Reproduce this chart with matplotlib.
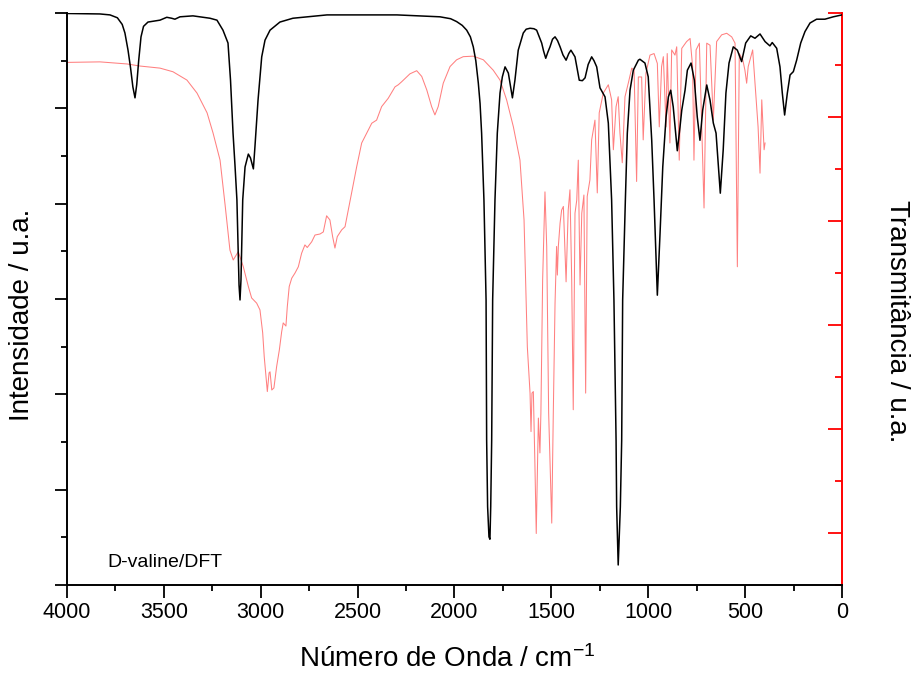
import matplotlib
matplotlib.use("Agg")
import matplotlib.pyplot as plt
from matplotlib.ticker import MultipleLocator, NullFormatter

plt.rcParams["font.family"] = ["Liberation Sans", "DejaVu Sans"]
plt.rcParams["mathtext.fontset"] = "custom"
plt.rcParams["mathtext.rm"] = "Liberation Sans"
plt.rcParams["mathtext.it"] = "Liberation Sans:italic"

# calculated (DFT) spectrum, black curve, left axis
dft_wn = [4000, 3830, 3778, 3740, 3715, 3701, 3685, 3672, 3660, 3649, 3640, 3630,
          3618, 3605, 3582, 3537, 3520, 3485, 3460, 3443, 3417, 3350, 3262, 3226,
          3195, 3169, 3156, 3143, 3133, 3123, 3112, 3107, 3102, 3093, 3081, 3064,
          3053, 3038, 3030, 3014, 2995, 2978, 2952, 2901, 2834, 2658, 2297, 2075,
          2020, 1989, 1960, 1937, 1918, 1903, 1890, 1877, 1868, 1860, 1848, 1837,
          1834, 1829, 1822, 1817, 1813, 1808, 1803, 1791, 1779, 1765, 1753, 1739,
          1722, 1710, 1701, 1688, 1671, 1645, 1630, 1610, 1590, 1576, 1550, 1540,
          1529, 1518, 1507, 1494, 1481, 1468, 1455, 1440, 1424, 1410, 1399, 1378,
          1356, 1340, 1326, 1310, 1292, 1280, 1266, 1249, 1223, 1206, 1189, 1177,
          1166, 1163, 1155, 1144, 1137, 1132, 1118, 1108, 1094, 1077, 1051, 1043,
          1017, 1000, 982, 970, 953, 939, 925, 908, 896, 884, 871, 850,
          836, 827, 810, 798, 779, 762, 747, 733, 719, 698, 681, 664,
          650, 628, 613, 599, 583, 561, 540, 518, 497, 471, 449, 423,
          397, 372, 360, 337, 320, 308, 296, 282, 268, 251, 234, 213,
          191, 165, 131, 88, 45, 0]
dft_int = [1.199, 1.198, 1.196, 1.190, 1.176, 1.158, 1.122, 1.085, 1.045, 1.022, 1.050, 1.100,
           1.150, 1.172, 1.181, 1.184, 1.185, 1.191, 1.189, 1.187, 1.192, 1.194, 1.189, 1.185,
           1.164, 1.137, 1.059, 0.948, 0.881, 0.808, 0.629, 0.598, 0.640, 0.808, 0.877, 0.904,
           0.896, 0.873, 0.919, 1.017, 1.108, 1.143, 1.164, 1.181, 1.189, 1.196, 1.196, 1.192,
           1.188, 1.182, 1.174, 1.164, 1.150, 1.129, 1.100, 1.053, 1.010, 0.948, 0.808, 0.598,
           0.304, 0.164, 0.101, 0.096, 0.164, 0.304, 0.598, 0.808, 0.948, 1.032, 1.066, 1.087,
           1.074, 1.045, 1.022, 1.059, 1.122, 1.158, 1.166, 1.168, 1.167, 1.164, 1.137, 1.120,
           1.105, 1.118, 1.129, 1.145, 1.150, 1.142, 1.129, 1.112, 1.101, 1.115, 1.122, 1.108,
           1.059, 1.058, 1.064, 1.092, 1.108, 1.100, 1.087, 1.043, 1.024, 0.969, 0.808, 0.598,
           0.304, 0.164, 0.042, 0.164, 0.304, 0.598, 0.808, 0.948, 1.038, 1.080, 1.101, 1.103,
           1.095, 1.066, 0.933, 0.808, 0.608, 0.738, 0.877, 0.982, 1.024, 1.038, 1.003, 0.911,
           0.961, 0.996, 1.038, 1.080, 1.095, 1.059, 0.982, 0.933, 0.996, 1.049, 1.017, 0.969,
           0.948, 0.822, 0.913, 1.032, 1.095, 1.129, 1.122, 1.098, 1.137, 1.152, 1.147, 1.156,
           1.140, 1.131, 1.138, 1.126, 1.087, 1.032, 0.986, 1.032, 1.070, 1.077, 1.101, 1.137,
           1.161, 1.179, 1.187, 1.187, 1.192, 1.196]

exp_wn = [4000, 3830, 3690, 3623, 3520, 3453, 3381, 3329, 3277, 3246, 3210, 3184,
          3159, 3142, 3116, 3090, 3064, 3047, 3021, 3004, 2990, 2982, 2973, 2966,
          2957, 2952, 2943, 2932, 2918, 2904, 2892, 2884, 2870, 2863, 2853, 2840,
          2823, 2806, 2789, 2772, 2760, 2737, 2720, 2694, 2677, 2660, 2643, 2629,
          2617, 2605, 2582, 2565, 2548, 2531, 2505, 2479, 2453, 2427, 2402, 2376,
          2342, 2307, 2290, 2272, 2230, 2195, 2169, 2143, 2118, 2101, 2084, 2058,
          2023, 1989, 1955, 1903, 1851, 1800, 1765, 1731, 1696, 1662, 1641, 1624,
          1610, 1605, 1600, 1593, 1585, 1578, 1567, 1559, 1554, 1545, 1533, 1524,
          1514, 1498, 1490, 1481, 1473, 1469, 1464, 1455, 1447, 1438, 1424, 1413,
          1404, 1395, 1387, 1378, 1369, 1361, 1352, 1343, 1332, 1323, 1315, 1301,
          1292, 1275, 1263, 1253, 1232, 1206, 1189, 1180, 1166, 1155, 1146, 1134,
          1120, 1103, 1085, 1073, 1060, 1051, 1034, 1026, 1012, 991, 970, 953,
          943, 931, 922, 908, 902, 888, 879, 862, 853, 840, 827, 802,
          784, 771, 764, 753, 736, 712, 698, 681, 664, 647, 621, 595,
          569, 552, 540, 530, 512, 501, 492, 484, 461, 433, 423, 414,
          402, 397]
exp_tr = [0.905, 0.906, 0.902, 0.898, 0.894, 0.887, 0.871, 0.846, 0.808, 0.769, 0.717, 0.631,
          0.544, 0.525, 0.541, 0.512, 0.474, 0.452, 0.442, 0.429, 0.385, 0.339, 0.301, 0.272,
          0.308, 0.310, 0.275, 0.279, 0.320, 0.352, 0.387, 0.404, 0.398, 0.435, 0.474, 0.490,
          0.500, 0.512, 0.538, 0.554, 0.549, 0.560, 0.573, 0.575, 0.579, 0.610, 0.602, 0.570,
          0.548, 0.570, 0.583, 0.589, 0.621, 0.654, 0.704, 0.750, 0.769, 0.788, 0.794, 0.820,
          0.836, 0.858, 0.862, 0.868, 0.883, 0.889, 0.878, 0.852, 0.820, 0.804, 0.820, 0.865,
          0.897, 0.910, 0.916, 0.917, 0.910, 0.890, 0.871, 0.833, 0.781, 0.717, 0.602, 0.358,
          0.269, 0.195, 0.269, 0.272, 0.134, -0.001, 0.221, 0.154, 0.231, 0.487, 0.656, 0.551,
          0.231, 0.019, 0.231, 0.442, 0.551, 0.496, 0.551, 0.596, 0.621, 0.628, 0.483, 0.621,
          0.660, 0.487, 0.237, 0.615, 0.640, 0.717, 0.477, 0.615, 0.650, 0.269, 0.647, 0.679,
          0.756, 0.794, 0.654, 0.808, 0.846, 0.862, 0.833, 0.737, 0.820, 0.839, 0.769, 0.712,
          0.839, 0.865, 0.894, 0.890, 0.676, 0.877, 0.877, 0.756, 0.884, 0.919, 0.922, 0.903,
          0.781, 0.897, 0.916, 0.781, 0.922, 0.750, 0.929, 0.919, 0.935, 0.717, 0.932, 0.945,
          0.951, 0.897, 0.717, 0.929, 0.942, 0.625, 0.942, 0.938, 0.794, 0.945, 0.958, 0.961,
          0.954, 0.942, 0.512, 0.922, 0.910, 0.890, 0.865, 0.897, 0.929, 0.781, 0.692, 0.833,
          0.737, 0.750]

x_ticks = [4000, 3500, 3000, 2500, 2000, 1500, 1000, 500, 0]
sample_label = "D-valine/DFT"


def make_plot(out="out.png"):
    fig = plt.figure(figsize=(9.14, 6.77), dpi=100)
    ax = fig.add_axes([0.0733, 0.1359, 0.8479, 0.8449])
    ax.plot(dft_wn, dft_int, color="black", lw=1.1, zorder=3)
    ax.set_xlim(4000, 0)
    ax.set_ylim(0, 1.2)

    ax2 = ax.twinx()
    ax2.plot(exp_wn, exp_tr, color="#ff8080", lw=0.75)
    ax2.set_ylim(-0.1, 1.0)
    ax.set_zorder(ax2.get_zorder() + 1)
    ax.patch.set_visible(False)

    # spines
    for s in ["top", "right"]:
        ax.spines[s].set_visible(False)
    for s in ["top", "left", "bottom"]:
        ax2.spines[s].set_visible(False)
    ax.spines["left"].set_linewidth(1.4)
    ax.spines["bottom"].set_linewidth(1.4)
    ax2.spines["right"].set_linewidth(1.4)
    ax2.spines["right"].set_color("red")

    # ticks
    ax.set_xticks(x_ticks)
    ax.set_xticklabels([str(t) for t in x_ticks])
    ax.xaxis.set_minor_locator(MultipleLocator(250))
    ax.yaxis.set_major_locator(MultipleLocator(0.2))
    ax.yaxis.set_minor_locator(MultipleLocator(0.1))
    ax.yaxis.set_major_formatter(NullFormatter())
    ax.tick_params(axis="x", which="major", direction="out", length=9, width=1.3,
                   labelsize=15.5, pad=3)
    ax.tick_params(axis="x", which="minor", direction="out", length=4.5, width=1.3)
    ax.tick_params(axis="y", which="major", direction="out", length=9, width=1.3)
    ax.tick_params(axis="y", which="minor", direction="out", length=4.5, width=1.3)

    ax2.yaxis.set_major_locator(MultipleLocator(0.2))
    ax2.yaxis.set_minor_locator(MultipleLocator(0.1))
    ax2.yaxis.set_major_formatter(NullFormatter())
    ax2.tick_params(axis="y", which="major", direction="in", length=10, width=1.3,
                    color="red")
    ax2.tick_params(axis="y", which="minor", direction="in", length=5, width=1.3,
                    color="red")

    # labels
    ax.set_xlabel("Número de Onda / cm$^{-1}$", fontsize=20)
    ax.xaxis.set_label_coords(0.49, -0.105)
    fig.text(22 / 914, 1 - 315 / 677, "Intensidade / u.a.", fontsize=20,
             rotation=90, ha="center", va="center")
    fig.text(897 / 914, 1 - 321 / 677, "Transmitância / u.a.", fontsize=20,
             rotation=-90, ha="center", va="center")
    ax.text(0.0516, 0.04, sample_label, transform=ax.transAxes, fontsize=14,
            va="center", ha="left")

    fig.savefig(out, dpi=100)


if __name__ == "__main__":
    make_plot()
